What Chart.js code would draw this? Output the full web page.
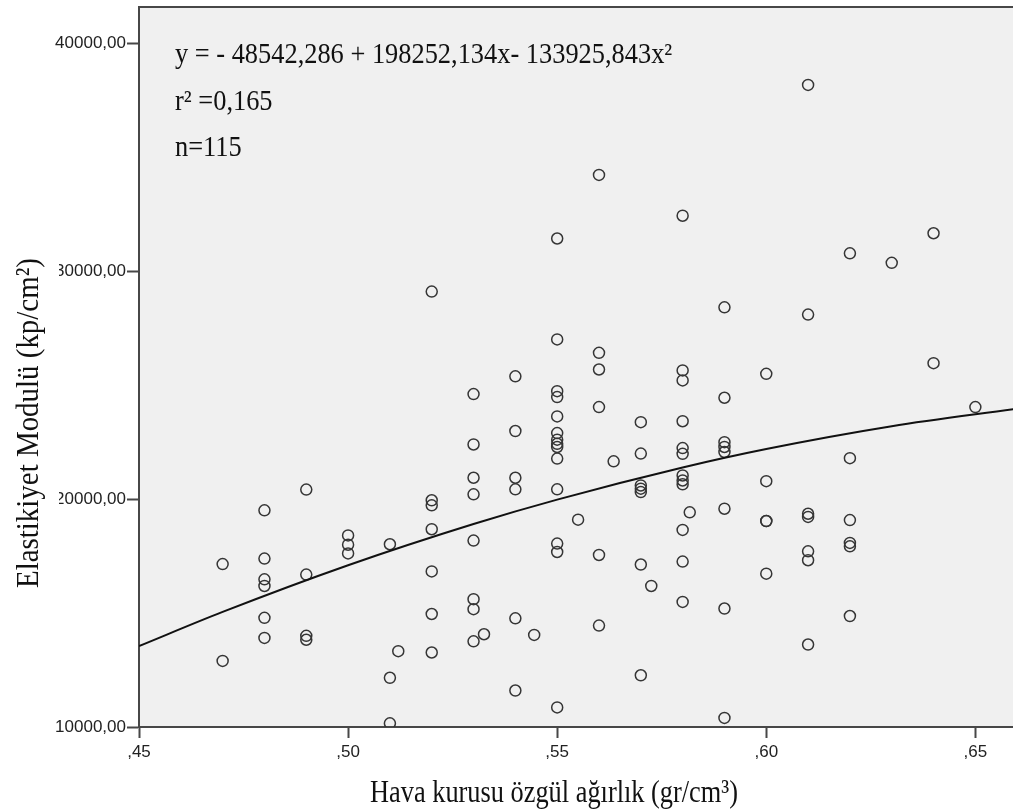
<!DOCTYPE html>
<html>
<head>
<meta charset="utf-8">
<title>Elastikiyet Modulü</title>
<script src="https://cdn.jsdelivr.net/npm/chart.js@4"></script>
<style>
  html, body { margin: 0; padding: 0; background: #ffffff; overflow: hidden; width: 1013px; height: 810px; }
  canvas { display: block; width: 1013px; height: 810px; }
</style>
</head>
<body>
<canvas id="chart" width="1013" height="810"></canvas>
<script>
// Scatter data (x = specific gravity, y = modulus)
const pointX = [
  0.47, 0.47,
  0.48, 0.48, 0.48, 0.48, 0.48, 0.48,
  0.49, 0.49, 0.49, 0.49,
  0.50, 0.50, 0.50,
  0.51, 0.51, 0.51, 0.512,
  0.52, 0.52, 0.52, 0.52, 0.52, 0.52, 0.52,
  0.53, 0.53, 0.53, 0.53, 0.53, 0.53, 0.53, 0.53, 0.5325,
  0.54, 0.54, 0.54, 0.54, 0.54, 0.54, 0.5445,
  0.55, 0.55, 0.55, 0.55, 0.55, 0.55, 0.55, 0.55, 0.55, 0.55, 0.55, 0.55, 0.55, 0.55, 0.555,
  0.56, 0.56, 0.56, 0.56, 0.56, 0.56, 0.5635,
  0.57, 0.57, 0.57, 0.57, 0.57, 0.57, 0.57, 0.5725,
  0.58, 0.58, 0.58, 0.58, 0.58, 0.58, 0.58, 0.58, 0.58, 0.58, 0.58, 0.58, 0.5817,
  0.59, 0.59, 0.59, 0.59, 0.59, 0.59, 0.59, 0.59,
  0.60, 0.60, 0.60, 0.60, 0.60,
  0.61, 0.61, 0.61, 0.61, 0.61, 0.61, 0.61,
  0.62, 0.62, 0.62, 0.62, 0.62, 0.62,
  0.63,
  0.64, 0.64,
  0.65
];
const pointY = [
  17150, 12900,
  19510, 17390, 16480, 16190, 14790, 13910,
  20420, 16690, 14000, 13830,
  18410, 18000, 17620,
  18020, 12160, 10160, 13330,
  29110, 19950, 19730, 18680, 16830, 14960, 13270,
  24610, 22400, 20940, 20210, 18180, 15610, 15170, 13760, 14070,
  25390, 22990, 20940, 20430, 14770, 11600, 14040,
  31440, 27010, 24740, 24480, 23630, 22900, 22610, 22430, 22290, 21780, 20430, 18050, 17680, 10860, 19100,
  34230, 26420, 25690, 24040, 17550, 14450, 21660,
  23380, 22000, 20600, 20460, 20310, 17130, 12270, 16190,
  32440, 25650, 25210, 23420, 22240, 21990, 21040, 20820, 20650, 18650, 17260, 15490, 19420,
  28420, 24450, 22500, 22290, 22070, 19580, 15200, 10400,
  25500, 20790, 19040, 19040, 16730,
  38180, 28100, 19360, 19220, 17710, 17320, 13620,
  30790, 21800, 19080, 18080, 17930, 14870,
  30370,
  31670, 25970,
  24040
];

// Fitted quadratic curve
const curveX = [0.45, 0.47, 0.50, 0.53, 0.55, 0.58, 0.60, 0.63, 0.66];
const curveY = [13550, 15050, 17100, 18910, 19980, 21390, 22200, 23200, 23970];

// Axis ticks
const xTicks = [0.45, 0.50, 0.55, 0.60, 0.65];
const xTickLabels = [",45", ",50", ",55", ",60", ",65"];
const yTicks = [10000, 20000, 30000, 40000];
const yTickLabels = ["10000,00", "20000,00", "30000,00", "40000,00"];

// Texts
const xTitle = "Hava kurusu özgül ağırlık (gr/cm\u00B3)";
const yTitle = "Elastikiyet Modulü (kp/cm\u00B2)";
const fitLines = [
  "y = - 48542,286 + 198252,134x- 133925,843x\u00B2",
  "r\u00B2 =0,165",
  "n=115"
];

const axisColor = "#474747";
const serif = '"Liberation Serif", "Times New Roman", serif';

// Draw serif text, squeezed to a given width (or by a fixed factor)
function drawText(ctx, text, x, y, size, fit, rotate) {
  ctx.save();
  ctx.font = size + "px " + serif;
  ctx.fillStyle = "#111111";
  ctx.textBaseline = "alphabetic";
  ctx.textAlign = "left";
  let sx = fit;
  if (fit > 5) sx = fit / ctx.measureText(text).width;
  ctx.translate(x, y);
  if (rotate) ctx.rotate(-Math.PI / 2);
  ctx.scale(sx, 1);
  ctx.fillText(text, 0, 0);
  ctx.restore();
}

// Background, frame and texts
const framePlugin = {
  id: "frame",
  beforeDraw(chart) {
    const ctx = chart.ctx;
    const a = chart.chartArea;
    ctx.save();
    ctx.fillStyle = "#ffffff";
    ctx.fillRect(0, 0, chart.width, chart.height);
    ctx.fillStyle = "#f0f0f0";
    ctx.fillRect(a.left, a.top, a.right - a.left, a.bottom - a.top);
    ctx.restore();
  },
  afterDraw(chart) {
    const ctx = chart.ctx;
    const a = chart.chartArea;
    ctx.save();
    ctx.strokeStyle = axisColor;
    ctx.lineWidth = 2;
    ctx.beginPath();
    ctx.moveTo(a.left - 1, a.top);
    ctx.lineTo(chart.width, a.top);
    ctx.stroke();

    // y title sits on a white box that hides part of the labels
    ctx.fillStyle = "#ffffff";
    ctx.fillRect(0, 252, 59, 345);
    ctx.restore();

    drawText(ctx, yTitle, 38, 588, 32, 330, true);
    drawText(ctx, xTitle, 370, 802, 32, 368, false);

    drawText(ctx, fitLines[0], 175, 63, 29, 0.91, false);
    drawText(ctx, fitLines[1], 175, 110, 29, 0.91, false);
    drawText(ctx, fitLines[2], 175, 156, 29, 0.91, false);
  }
};

const scatterData = pointX.map((x, i) => ({ x: x, y: pointY[i] }));
const curveData = curveX.map((x, i) => ({ x: x, y: curveY[i] }));

const tickFont = { family: '"Liberation Sans", Arial, sans-serif', size: 17 };

new Chart(document.getElementById("chart"), {
  type: "scatter",
  data: {
    datasets: [
      {
        type: "line",
        data: curveData,
        borderColor: "#111111",
        borderWidth: 2,
        pointRadius: 0,
        fill: false,
        cubicInterpolationMode: "monotone",
        clip: 0
      },
      {
        data: scatterData,
        pointStyle: "circle",
        pointRadius: 5.5,
        borderWidth: 1.5,
        borderColor: "#353535",
        backgroundColor: "rgba(0,0,0,0)"
      }
    ]
  },
  options: {
    responsive: false,
    devicePixelRatio: 1,
    animation: false,
    layout: {
      autoPadding: false,
      padding: { top: 7, right: 0, left: 0, bottom: 0 }
    },
    plugins: {
      legend: { display: false },
      tooltip: { enabled: false }
    },
    scales: {
      x: {
        type: "linear",
        min: 0.45,
        max: 0.659,
        afterBuildTicks: (scale) => {
          scale.ticks = xTicks.map((v) => ({ value: v }));
        },
        afterFit: (scale) => {
          scale.height = 83;
          scale.paddingLeft = 0;
          scale.paddingRight = 0;
        },
        ticks: {
          callback: (v, i) => xTickLabels[i],
          font: tickFont,
          color: "#222222",
          padding: 4,
          maxRotation: 0
        },
        grid: {
          drawOnChartArea: false,
          drawTicks: true,
          tickLength: 11,
          tickWidth: 2,
          tickColor: axisColor
        },
        border: { color: axisColor, width: 2 }
      },
      y: {
        min: 10000,
        max: 41600,
        afterBuildTicks: (scale) => {
          scale.ticks = yTicks.map((v) => ({ value: v }));
        },
        afterFit: (scale) => {
          scale.width = 139;
          scale.paddingTop = 0;
          scale.paddingBottom = 0;
        },
        ticks: {
          callback: (v, i) => yTickLabels[i],
          font: tickFont,
          color: "#222222",
          padding: 1
        },
        grid: {
          drawOnChartArea: false,
          drawTicks: true,
          tickLength: 12,
          tickWidth: 2,
          tickColor: axisColor
        },
        border: { color: axisColor, width: 2 }
      }
    }
  },
  plugins: [framePlugin]
});
</script>
</body>
</html>
